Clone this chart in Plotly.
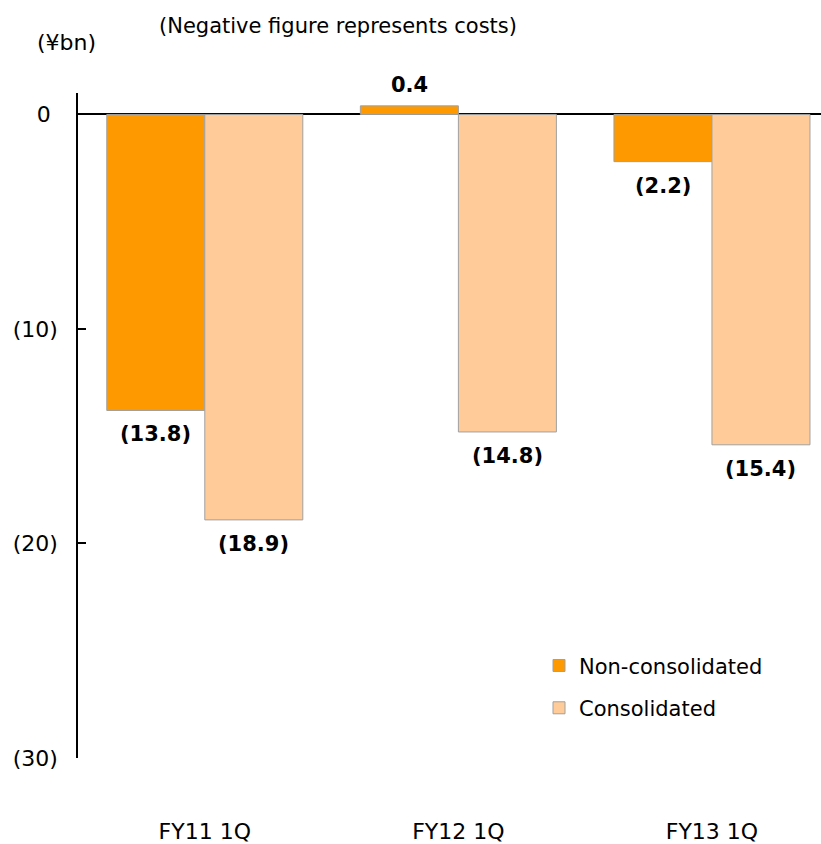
import plotly.graph_objects as go

categories = ["FY11 1Q", "FY12 1Q", "FY13 1Q"]
non_consolidated = [-13.8, 0.4, -2.2]
consolidated = [-18.9, -14.8, -15.4]
y_tick_vals = [0, -10, -20, -30]
y_tick_text = ["0\u00a0", "(10)", "(20)", "(30)"]

FONT = "DejaVu Sans"
BARGAP = 0.227
W, H = 821, 844
ML, MR, MT, MB = 78, 0, 93, 84


def fmt(v):
    return f"({abs(v):.1f})" if v < 0 else f"{v:.1f}"


fig = go.Figure()
fig.add_trace(go.Bar(
    name="Non-consolidated", x=categories, y=non_consolidated,
    legendgroup="a",
    marker=dict(color="#FF9900", line=dict(color="#A0A0A0", width=1)),
))
fig.add_trace(go.Bar(
    name="Consolidated", x=categories, y=consolidated,
    legendgroup="b",
    marker=dict(color="#FFCC99", line=dict(color="#A0A0A0", width=1)),
))

# data labels: placed just outside the end of each bar
half = (1 - BARGAP) / 4
annotations = []
for series, sign in ((non_consolidated, -1), (consolidated, 1)):
    for i, v in enumerate(series):
        annotations.append(dict(
            x=i + sign * half, y=v, xref="x", yref="y",
            text=fmt(v), showarrow=False,
            xanchor="center", yanchor="middle",
            yshift=-24 if v < 0 else 21,
            font=dict(family=FONT, size=21, color="#000000", weight="bold"),
        ))

pw = W - ML - MR
ph = H - MT - MB


def px_to_paper(x, y):
    return (x - ML) / pw, (H - MB - y) / ph


tx, ty = px_to_paper(157, 26)
annotations.append(dict(text="(Negative figure represents costs)", x=tx, y=ty,
                        xref="paper", yref="paper", showarrow=False,
                        xanchor="left", yanchor="middle", font=dict(size=21)))
ux, uy = px_to_paper(35, 42)
annotations.append(dict(text="(¥bn)", x=ux, y=uy, xref="paper", yref="paper",
                        showarrow=False, xanchor="left", yanchor="middle"))

lx, ly = px_to_paper(539, 647)

fig.update_layout(
    width=W, height=H,
    margin=dict(l=ML, r=MR, t=MT, b=MB),
    paper_bgcolor="white", plot_bgcolor="white",
    barmode="group", bargap=BARGAP, bargroupgap=0,
    font=dict(family=FONT, size=22, color="#000000"),
    showlegend=True,
    legend=dict(x=lx, y=ly, xanchor="left", yanchor="top",
                bgcolor="rgba(0,0,0,0)", font=dict(size=21),
                traceorder="grouped", tracegroupgap=12),
    xaxis=dict(range=[-0.5, 2.43], showline=False, showgrid=False, ticks="",
               ticklabelstandoff=58, tickfont=dict(size=22)),
    yaxis=dict(range=[-30, 1], tickvals=y_tick_vals, ticktext=y_tick_text,
               showgrid=False, showline=True, linecolor="#000000", linewidth=1.5,
               ticks="inside", ticklen=8, tickcolor="#000000", tickwidth=1.5,
               zeroline=True, zerolinecolor="#000000", zerolinewidth=1.5,
               ticklabelstandoff=14, tickfont=dict(size=22)),
    annotations=annotations,
)

fig.write_html("out.html")
